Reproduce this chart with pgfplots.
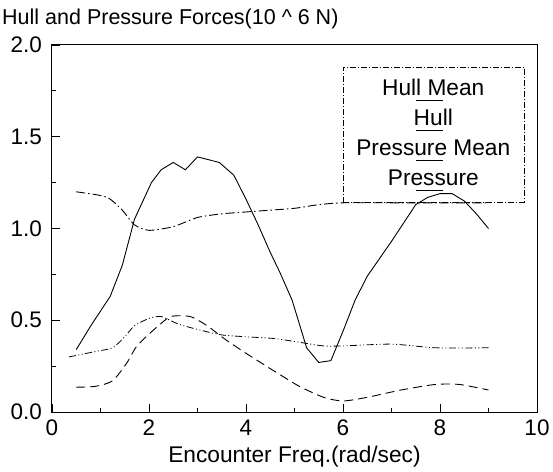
\documentclass[border=0pt]{standalone}
\usepackage{pgfplots}
\pgfplotsset{compat=1.18}
\usepackage{fontspec}
\setmainfont{Liberation Sans}

% force hull and pressure force components (10^6 N) vs encounter frequency
\pgfplotstableread{
x y
0.5 0.34
0.8 0.47
1.2 0.63
1.45 0.80
1.7 1.05
2.05 1.25
2.25 1.32
2.5 1.36
2.75 1.32
3.0 1.39
3.45 1.36
3.75 1.29
4.0 1.16
4.25 1.02
4.5 0.87
4.7 0.76
4.95 0.61
5.25 0.35
5.5 0.27
5.75 0.28
6.0 0.44
6.25 0.61
6.5 0.74
7.0 0.93
7.5 1.13
7.75 1.17
8.0 1.19
8.25 1.19
8.5 1.15
8.75 1.08
9.0 1.00
}\hull
\pgfplotstableread{
x y
0.5 1.20
1.0 1.18
1.2 1.16
1.45 1.10
1.7 1.02
2.0 0.99
2.5 1.01
3.0 1.06
3.5 1.08
4.0 1.09
4.5 1.10
5.0 1.11
5.5 1.13
6.0 1.14
7.0 1.14
8.0 1.14
9.0 1.14
}\hullmean
\pgfplotstableread{
x y
0.35 0.30
0.9 0.33
1.25 0.35
1.5 0.41
1.7 0.47
2.0 0.51
2.25 0.52
2.6 0.48
3.0 0.45
3.5 0.42
4.0 0.41
4.6 0.40
5.1 0.38
5.6 0.36
6.0 0.36
7.0 0.37
7.9 0.35
9.0 0.35
}\pressmean
\pgfplotstableread{
x y
0.5 0.135
0.9 0.14
1.25 0.17
1.55 0.27
1.75 0.36
2.15 0.46
2.45 0.52
2.85 0.52
3.2 0.47
3.55 0.40
4.0 0.32
4.6 0.22
5.1 0.14
5.6 0.08
6.0 0.06
6.5 0.08
7.2 0.12
7.9 0.15
8.4 0.15
9.0 0.12
}\press

\begin{document}
\begin{tikzpicture}
\begin{axis}[
  scale only axis,
  width=485bp, height=367bp,
  xmin=0, xmax=10, ymin=0, ymax=2,
  xtick={0,2,...,10}, ytick={0,0.5,...,2},
  minor x tick num=1, minor y tick num=1,
  tick pos=left, tick align=inside,
  major tick length=8bp, minor tick length=4bp,
  every tick/.style={black, line width=0.8bp},
  axis line style={line width=1bp},
  /pgf/number format/assume math mode=true,
  yticklabel style={/pgf/number format/fixed, /pgf/number format/fixed zerofill,
    /pgf/number format/precision=1, anchor=east, inner sep=0pt, xshift=-10bp},
  xticklabel style={anchor=base, inner sep=0pt, yshift=-23bp},
  tick label style={font=\fontsize{22.5bp}{26bp}\selectfont},
  xlabel={Encounter Freq.(rad/sec)},
  xlabel style={at={(axis description cs:0.5,0)}, anchor=base, yshift=-50bp,
    font=\fontsize{22.7bp}{26bp}\selectfont},
  legend cell align=center,
  legend style={at={(rel axis cs:0.9732,0.940)}, anchor=north east,
    draw=black, line width=0.5bp, dash pattern=on 6bp off 2bp on 1bp off 2bp,
    fill=none, font=\fontsize{22.7bp}{26bp}\selectfont,
    inner xsep=13.5bp, inner ysep=12bp, row sep=9bp, column sep=0pt,
    nodes={inner sep=0pt, text height=16bp, text depth=5bp}},
  legend image code/.code={\draw[solid, line width=0.9bp, #1, overlay] (59.5bp,-10.5bp) -- ++(27bp,0);},
]
\addplot[black, line width=0.9bp, dash pattern=on 9bp off 3bp on 1.5bp off 3bp, smooth, tension=0.4] table {\hullmean};
\addlegendentry{Hull Mean}
\addplot[black, line width=0.9bp] table {\hull};
\addlegendentry{Hull}
\addplot[black, line width=0.8bp, dash pattern=on 7bp off 2.5bp on 1bp off 2.5bp on 1bp off 2.5bp, smooth, tension=0.4] table {\pressmean};
\addlegendentry{Pressure Mean}
\addplot[black, line width=0.9bp, dash pattern=on 9bp off 5bp, smooth, tension=0.4] table {\press};
\addlegendentry{Pressure}
\end{axis}
\node[anchor=base west, font=\fontsize{21.5bp}{25bp}\selectfont, inner sep=0pt]
  at ([shift={(-50bp,20bp)}]current axis.north west) {Hull and Pressure Forces(10 \^{} 6 N)};
\path ([shift={(-52bp,-60bp)}]current axis.south west) rectangle ([shift={(16bp,45bp)}]current axis.north east);
\end{tikzpicture}
\end{document}
